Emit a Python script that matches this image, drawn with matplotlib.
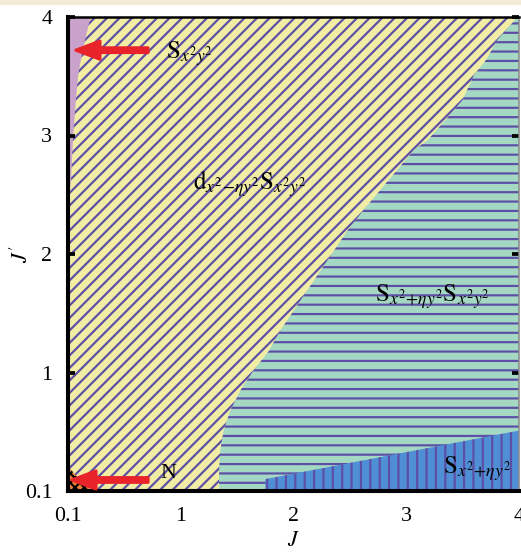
import matplotlib
matplotlib.use('Agg')
import matplotlib.pyplot as plt
from matplotlib.patches import Rectangle

plt.rcParams['font.family'] = ['Liberation Serif', 'DejaVu Serif']
plt.rcParams['mathtext.fontset'] = 'stix'
plt.rcParams['hatch.linewidth'] = 0.7

# phase boundaries
# yellow / green boundary: J' -> J
bound_y = [0, 0.17, 0.34, 0.51, 0.68, 0.85, 1.01, 1.18, 1.35, 1.52, 1.69, 1.86,
           2.03, 2.20, 2.37, 2.54, 2.71, 2.88, 2.96, 3.30, 3.51, 3.64, 3.81, 3.97, 4.0]
bound_x = [1.34, 1.34, 1.35, 1.38, 1.44, 1.53, 1.64, 1.78, 1.88, 2.00, 2.12, 2.24,
           2.36, 2.48, 2.62, 2.77, 2.92, 3.07, 3.19, 3.50, 3.60, 3.71, 3.81, 3.96, 3.97]
# purple strip on the left
sxy_y = [2.42, 2.62, 2.99, 3.30, 3.51, 3.72, 4.0]
sxy_x = [0, 0.027, 0.045, 0.07, 0.09, 0.13, 0.20]
# blue wedge at the bottom right
blue_x = [1.75, 4.0]
blue_y = [0.10, 0.51]
# small N corner
n_x = [0, 0.07, 0.14, 0.22]
n_y = [0.21, 0.13, 0.06, 0]

ticks = [0, 1, 2, 3, 4]
tick_labels = ['0.1', '1', '2', '3', '4']

hatch_col = '#5e4fa6'

fig = plt.figure(figsize=(521 / 225, 555 / 225), dpi=225)
ax = fig.add_axes([68 / 521, 64 / 555, 451 / 521, 474 / 555])

ax.fill_between([0, 4], 0, 4, facecolor='#f1eda5', edgecolor=hatch_col, lw=0, hatch='//////')
ax.fill_betweenx(bound_y, bound_x, 4, facecolor='#a4d8c3', edgecolor=hatch_col, lw=0, hatch='----')
ax.fill_between(blue_x, 0, blue_y, facecolor='#4f8fd6', edgecolor=hatch_col, lw=0, hatch='||||')
ax.fill_betweenx(sxy_y, 0, sxy_x, facecolor='#c9a2cc', lw=0)
ax.fill_between(n_x, 0, n_y, facecolor='#ec8236', edgecolor='black', lw=0, hatch='xxxxxxxx')

# labels
ax.text(0.87, 3.65, r'$\mathrm{S}_{x^2y^2}$', fontsize=8, ha='left', va='baseline')
ax.text(1.11, 2.54, r'$\mathrm{d}_{x^2\!-\!\eta y^2}\mathrm{S}_{x^2y^2}$', fontsize=8, ha='left', va='baseline')
ax.text(2.72, 1.595, r'$\mathrm{S}_{x^2\!+\!\eta y^2}\mathrm{S}_{x^2y^2}$', fontsize=8, ha='left', va='baseline')
ax.text(3.33, 0.143, r'$\mathrm{S}_{x^2\!+\!\eta y^2}$', fontsize=8, ha='left', va='baseline')
ax.text(0.82, 0.11, 'N', fontsize=7, ha='left', va='baseline')

arrow = dict(arrowstyle='simple,head_length=0.77,head_width=0.58,tail_width=0.15',
             color='#e8232a', shrinkA=0, shrinkB=0, mutation_scale=10)
ax.annotate('', xy=(0.07, 3.72), xytext=(0.71, 3.72), arrowprops=arrow)
ax.annotate('', xy=(0.035, 0.093), xytext=(0.71, 0.093), arrowprops=arrow)

ax.set_xlim(0, 4)
ax.set_ylim(0, 4)
ax.set_xticks(ticks)
ax.set_xticklabels(tick_labels)
ax.set_yticks(ticks)
ax.set_yticklabels(tick_labels)
ax.tick_params(axis='x', length=0, pad=5, labelsize=7)
ax.tick_params(axis='y', direction='in', length=2.2, width=1.2, left=True, right=True,
               pad=5, labelsize=7)

ax.set_xlabel(r'$J$', fontsize=7, labelpad=2)
ax.set_ylabel(r"$J'$", fontsize=7)
ax.yaxis.set_label_coords(-0.078, 0.5)

ax.spines['left'].set_linewidth(1.3)
ax.spines['bottom'].set_linewidth(1.3)
ax.spines['top'].set_linewidth(0.8)
ax.spines['right'].set_linewidth(0.5)
ax.spines['right'].set_color('#888888')

fig.patches.append(Rectangle((0, 1 - 3 / 555), 1, 3 / 555, transform=fig.transFigure,
                             color='#f4ebd7', zorder=0))

fig.savefig('out.png', dpi=225)
